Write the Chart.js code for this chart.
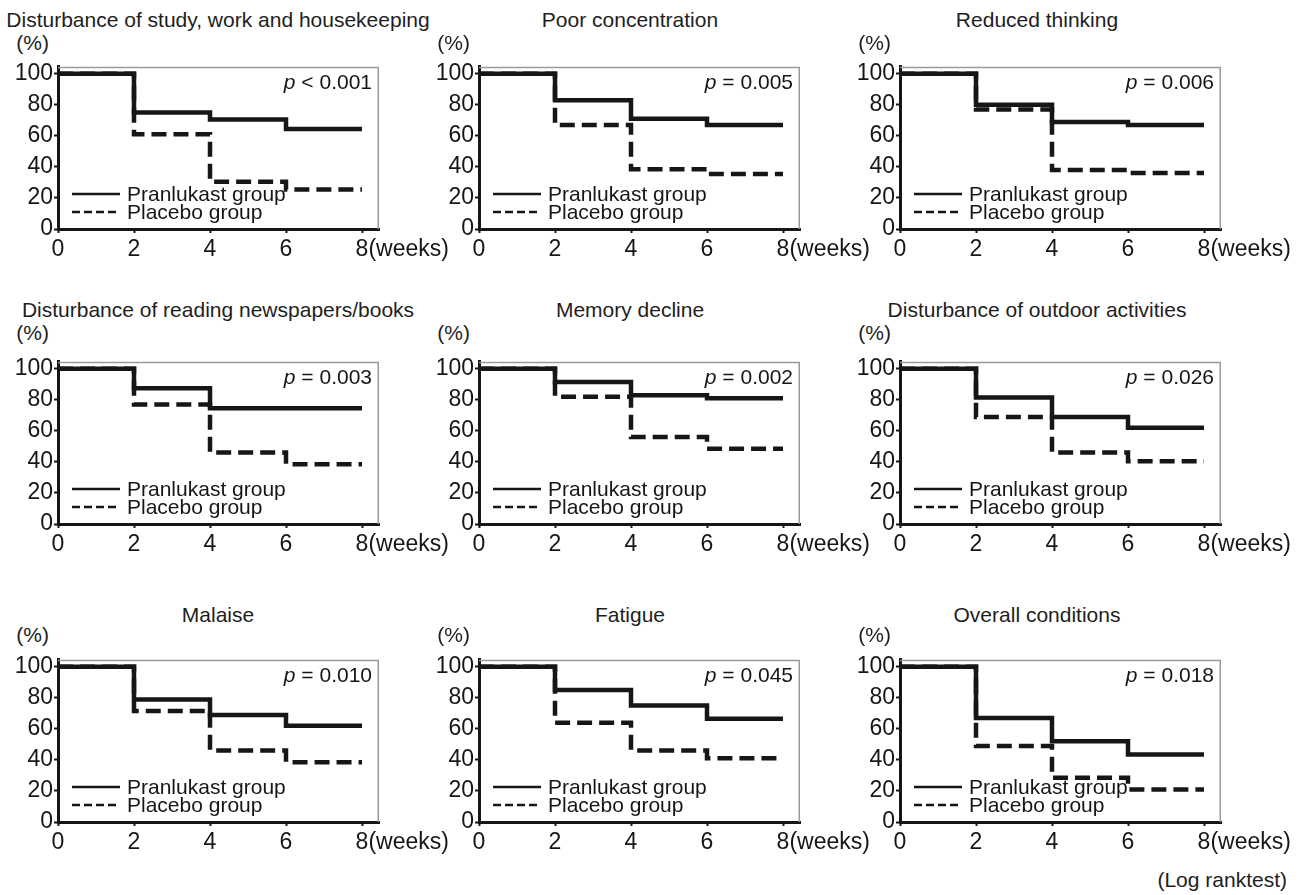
<!DOCTYPE html>
<html>
<head>
<meta charset="utf-8">
<script src="https://cdn.jsdelivr.net/npm/chart.js@4.4.1/dist/chart.umd.min.js"></script>
<style>
  body { margin: 0; background: #fff; }
  #page { position: relative; width: 1303px; height: 895px; overflow: hidden; font-family: 'Liberation Sans', Arial, sans-serif; color: #1e1e1e; }
  .title { position: absolute; font-size: 21px; line-height: 21px; white-space: nowrap; transform: translateX(-50%); }
  .unit { position: absolute; font-size: 21px; line-height: 21px; text-align: right; }
  .note { position: absolute; font-size: 21px; line-height: 21px; right: 16px; top: 869px; }
  canvas { position: absolute; }
</style>
</head>
<body>
<div id="page">
  <div class="note">(Log ranktest)</div>
</div>
<script>
const weeks = [0, 2, 4, 6, 8];
const yTicks = [0, 20, 40, 60, 80, 100];
const seriesNames = ['Pranlukast group', 'Placebo group'];

const titles = [
  'Disturbance of study, work and housekeeping',
  'Poor concentration',
  'Reduced thinking',
  'Disturbance of reading newspapers/books',
  'Memory decline',
  'Disturbance of outdoor activities',
  'Malaise',
  'Fatigue',
  'Overall conditions'
];

const pValues = ['< 0.001', '= 0.005', '= 0.006', '= 0.003', '= 0.002', '= 0.026', '= 0.010', '= 0.045', '= 0.018'];

// % remaining at weeks 0, 2, 4, 6, 8
const pranlukast = [
  [100, 75, 70.5, 64.5, 64.5],
  [100, 83, 71, 67, 67],
  [100, 80, 69, 67, 67],
  [100, 87.5, 74.5, 74.5, 74.5],
  [100, 91.5, 83, 81, 81],
  [100, 81.5, 69, 62, 62],
  [100, 79, 69, 62, 62],
  [100, 85, 75, 66.5, 66.5],
  [100, 67, 52, 43.5, 43.5]
];

const placebo = [
  [100, 61, 30.5, 25.5, 25.5],
  [100, 67, 38.5, 35.5, 35.5],
  [100, 77, 38, 36, 36],
  [100, 77, 46, 38.5, 38.5],
  [100, 82, 56, 48.5, 48.5],
  [100, 69, 46, 40.5, 40.5],
  [100, 71.5, 46, 38.5, 38.5],
  [100, 64, 46, 41, 41],
  [100, 49, 28.5, 21, 21]
];

const FONT = "'Liberation Sans', Arial, sans-serif";
const INK = '#161616';
const TICK_SIZE = 23;

// page layout
const colX0 = [58, 479, 900];
const rowTop = [60, 355, 653];
const titleCenter = [218, 630, 1037];
const titleTop = [9, 299, 604];
const unitTop = [32, 322, 624];
const Y_AXIS_W = 58;
const X_AXIS_H = 36;
const PAD_TOP = 8;
const PAD_RIGHT = 80;
const PLOT_W = 321;
const PLOT_H = 169;

const panelDecor = {
  id: 'panelDecor',
  beforeDatasetsDraw(chart) {
    const { ctx, chartArea: a } = chart;
    ctx.save();
    ctx.strokeStyle = '#9a9a9a';
    ctx.lineWidth = 1.5;
    ctx.beginPath();
    ctx.moveTo(a.left, a.top + 0.75);
    ctx.lineTo(a.right - 0.75, a.top + 0.75);
    ctx.lineTo(a.right - 0.75, a.bottom);
    ctx.stroke();
    ctx.restore();
  },
  afterDatasetsDraw(chart, args, opts) {
    const { ctx, chartArea: a } = chart;
    ctx.save();
    ctx.fillStyle = INK;
    ctx.strokeStyle = INK;

    // legend inside the plot, lower left
    chart.data.datasets.forEach((ds, k) => {
      const y = a.bottom - 35 + 18 * k;
      ctx.lineWidth = 2.5;
      ctx.setLineDash(ds.legendDash);
      ctx.beginPath();
      ctx.moveTo(a.left + 14, y);
      ctx.lineTo(a.left + 62, y);
      ctx.stroke();
      ctx.setLineDash([]);
      ctx.font = `21px ${FONT}`;
      ctx.textAlign = 'left';
      ctx.textBaseline = 'middle';
      ctx.fillText(ds.label, a.left + 69, y + 1);
    });

    // p value, top right
    ctx.font = `21px ${FONT}`;
    ctx.textAlign = 'right';
    ctx.textBaseline = 'alphabetic';
    const rest = ' ' + opts.p;
    const rx = a.right - 7;
    const by = a.top + 22;
    ctx.fillText(rest, rx, by);
    const w = ctx.measureText(rest).width;
    ctx.font = `italic 21px ${FONT}`;
    ctx.fillText('p', rx - w, by);

    // unit after the last x tick
    const xs = chart.scales.x;
    ctx.font = `${TICK_SIZE}px ${FONT}`;
    ctx.textAlign = 'left';
    ctx.textBaseline = 'middle';
    const xLast = xs.getPixelForValue(weeks[weeks.length - 1]);
    ctx.fillText('(weeks)', xLast + ctx.measureText('8').width / 2, xs.top + 4 + 3 + TICK_SIZE * 0.6);
    ctx.restore();
  }
};

function axisOptions(extra) {
  return Object.assign({
    grid: { drawOnChartArea: false, drawTicks: true, tickLength: 4, tickColor: INK, tickWidth: 2 },
    border: { display: true, color: INK, width: 3 }
  }, extra);
}

function createPanel(i) {
  const page = document.getElementById('page');
  const r = Math.floor(i / 3);
  const c = i % 3;

  const title = document.createElement('div');
  title.className = 'title';
  title.textContent = titles[i];
  title.style.left = titleCenter[c] + 'px';
  title.style.top = titleTop[r] + 'px';
  page.appendChild(title);

  const unit = document.createElement('div');
  unit.className = 'unit';
  unit.textContent = '(%)';
  unit.style.right = (1303 - (colX0[c] - 9)) + 'px';
  unit.style.top = unitTop[r] + 'px';
  page.appendChild(unit);

  const canvas = document.createElement('canvas');
  canvas.width = Y_AXIS_W + PLOT_W + PAD_RIGHT;
  canvas.height = PAD_TOP + PLOT_H + X_AXIS_H;
  canvas.style.left = (colX0[c] - Y_AXIS_W) + 'px';
  canvas.style.top = (rowTop[r] - PAD_TOP) + 'px';
  page.appendChild(canvas);

  const xMax = weeks[weeks.length - 1] * PLOT_W / 304;

  new Chart(canvas, {
    type: 'line',
    data: {
      datasets: [
        {
          label: seriesNames[0],
          data: weeks.map((w, k) => ({ x: w, y: pranlukast[i][k] })),
          borderColor: INK,
          borderWidth: 4.5,
          stepped: true,
          pointRadius: 0,
          fill: false,
          legendDash: []
        },
        {
          label: seriesNames[1],
          data: weeks.map((w, k) => ({ x: w, y: placebo[i][k] })),
          borderColor: INK,
          borderWidth: 4.5,
          borderDash: [15, 7],
          stepped: true,
          pointRadius: 0,
          fill: false,
          legendDash: [8, 4]
        }
      ]
    },
    options: {
      responsive: false,
      animation: false,
      devicePixelRatio: 1,
      layout: { padding: { top: PAD_TOP, right: PAD_RIGHT, left: 0, bottom: 0 } },
      plugins: {
        legend: { display: false },
        tooltip: { enabled: false },
        panelDecor: { p: pValues[i] }
      },
      scales: {
        x: axisOptions({
          type: 'linear',
          min: 0,
          max: xMax,
          afterBuildTicks: s => { s.ticks = weeks.map(v => ({ value: v })); },
          afterFit: s => { s.height = X_AXIS_H; },
          ticks: { font: { family: FONT, size: TICK_SIZE }, color: INK, padding: 3, maxRotation: 0, autoSkip: false }
        }),
        y: axisOptions({
          min: 0,
          max: 104.5,
          afterBuildTicks: s => { s.ticks = yTicks.map(v => ({ value: v })); },
          afterFit: s => { s.width = Y_AXIS_W; },
          ticks: { font: { family: FONT, size: TICK_SIZE }, color: INK, padding: 1, autoSkip: false }
        })
      }
    },
    plugins: [panelDecor]
  });
}

for (let i = 0; i < titles.length; i++) {
  createPanel(i);
}
</script>
</body>
</html>
